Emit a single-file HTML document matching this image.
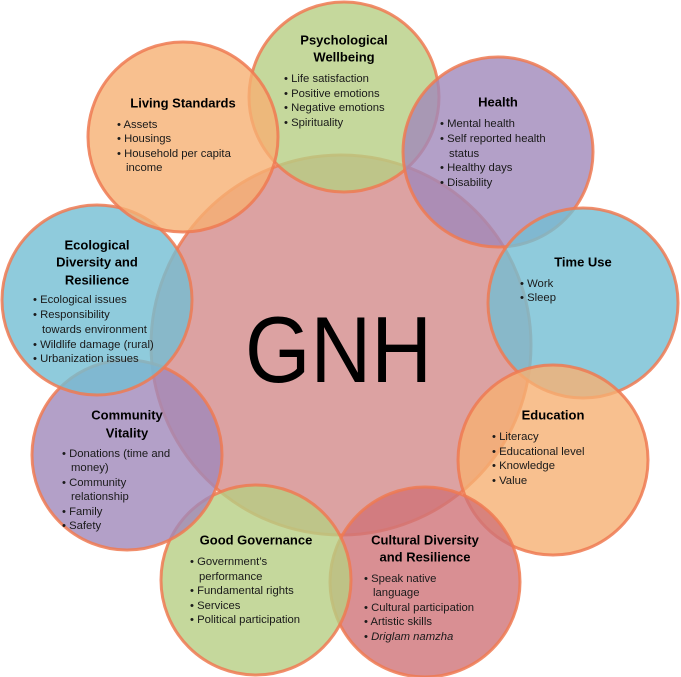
<!DOCTYPE html>
<html><head><meta charset="utf-8"><style>
html,body{margin:0;padding:0;background:#fff;}
svg{display:block;font-family:"Liberation Sans",Arial,sans-serif;}
.t{font-weight:bold;font-size:13px;fill:#000;text-anchor:middle;dominant-baseline:central;}
.b{font-size:11.3px;fill:#1a1a1a;dominant-baseline:central;}
</style></head><body>
<svg width="681" height="677" viewBox="0 0 681 677">
<g stroke="#ee7a52" stroke-width="3" stroke-opacity="0.85" fill-opacity="0.8">
<circle cx="341" cy="345" r="190" fill="rgb(211,139,139)"/>
<circle cx="344" cy="97" r="95" fill="rgb(183,206,131)"/>
<circle cx="498" cy="152" r="95" fill="rgb(160,136,186)"/>
<circle cx="583" cy="303" r="95" fill="rgb(115,190,211)"/>
<circle cx="553" cy="460" r="95" fill="rgb(246,176,115)"/>
<circle cx="425" cy="582" r="95" fill="rgb(207,115,120)"/>
<circle cx="256" cy="580" r="95" fill="rgb(183,206,131)"/>
<circle cx="127" cy="455" r="95" fill="rgb(160,136,186)"/>
<circle cx="97" cy="300" r="95" fill="rgb(115,190,211)"/>
<circle cx="183" cy="137" r="95" fill="rgb(246,176,115)"/>
</g>
<text x="245" y="382" font-size="94" textLength="187" lengthAdjust="spacingAndGlyphs" fill="#000">GNH</text>

<text class="t" x="344" y="40">Psychological</text>
<text class="t" x="344" y="57">Wellbeing</text>
<text class="b" x="284" y="79">•  Life satisfaction</text><text class="b" x="284" y="94">•  Positive emotions</text><text class="b" x="284" y="108">•  Negative emotions</text><text class="b" x="284" y="123">•  Spirituality</text>

<text class="t" x="498" y="102">Health</text>
<text class="b" x="440" y="124">•  Mental health</text><text class="b" x="440" y="139">•  Self reported health</text><text class="b" x="449" y="154">status</text><text class="b" x="440" y="168">•  Healthy days</text><text class="b" x="440" y="183">•  Disability</text>

<text class="t" x="583" y="262">Time Use</text>
<text class="b" x="520" y="284">•  Work</text><text class="b" x="520" y="298">•  Sleep</text>

<text class="t" x="553" y="415">Education</text>
<text class="b" x="492" y="437">•  Literacy</text><text class="b" x="492" y="452">•  Educational level</text><text class="b" x="492" y="466">•  Knowledge</text><text class="b" x="492" y="481">•  Value</text>

<text class="t" x="425" y="540">Cultural Diversity</text>
<text class="t" x="425" y="557">and Resilience</text>
<text class="b" x="364" y="579">•  Speak native</text><text class="b" x="373" y="593">language</text><text class="b" x="364" y="608">•  Cultural participation</text><text class="b" x="364" y="622">•  Artistic skills</text><text class="b" x="364" y="637">•  <tspan font-style="italic">Driglam namzha</tspan></text>

<text class="t" x="256" y="540">Good Governance</text>
<text class="b" x="190" y="562">•  Government’s</text><text class="b" x="199" y="577">performance</text><text class="b" x="190" y="591">•  Fundamental rights</text><text class="b" x="190" y="606">•  Services</text><text class="b" x="190" y="620">•  Political participation</text>

<text class="t" x="127" y="415">Community</text>
<text class="t" x="127" y="433">Vitality</text>
<text class="b" x="62" y="454">•  Donations (time and</text><text class="b" x="71" y="468">money)</text><text class="b" x="62" y="483">•  Community</text><text class="b" x="71" y="497">relationship</text><text class="b" x="62" y="512">•  Family</text><text class="b" x="62" y="526">•  Safety</text>

<text class="t" x="97" y="245">Ecological</text>
<text class="t" x="97" y="262">Diversity and</text>
<text class="t" x="97" y="280">Resilience</text>
<text class="b" x="33" y="300">•  Ecological issues</text><text class="b" x="33" y="315">•  Responsibility</text><text class="b" x="42" y="330">towards environment</text><text class="b" x="33" y="345">•  Wildlife damage (rural)</text><text class="b" x="33" y="359">•  Urbanization issues</text>

<text class="t" x="183" y="103">Living Standards</text>
<text class="b" x="117" y="125">•  Assets</text><text class="b" x="117" y="139">•  Housings</text><text class="b" x="117" y="154">•  Household per capita</text><text class="b" x="126" y="168">income</text>
</svg>
</body></html>
